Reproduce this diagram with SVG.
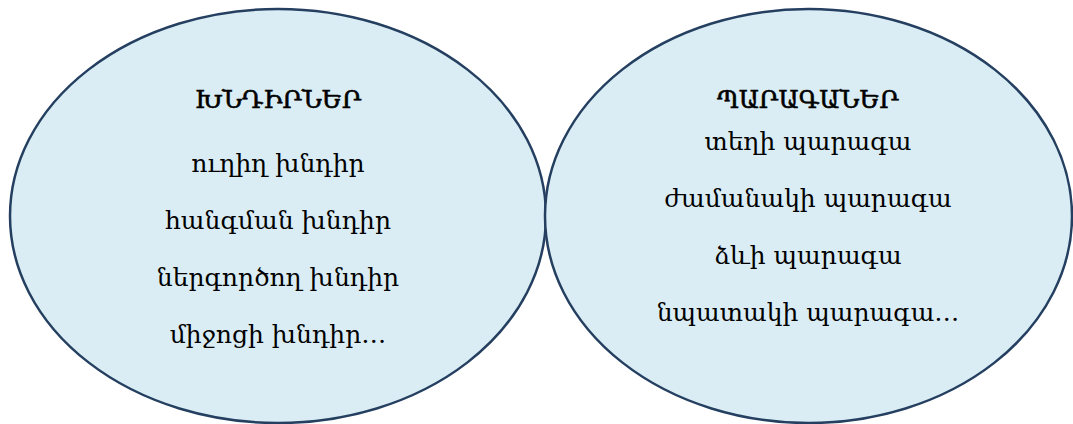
<svg xmlns="http://www.w3.org/2000/svg" width="1073" height="424" viewBox="0 0 1073 424">
<style>
.e{fill:#daedf4;stroke:#243f60;stroke-width:2.5}
text{font-family:"DejaVu Serif","Noto Serif Armenian","Noto Sans Armenian",serif;font-size:25px;fill:#000;text-anchor:middle}
.h{font-size:25px;stroke:#000;stroke-width:0.6}
</style>
<rect width="1073" height="424" fill="#fff"/>
<g id="problems">
<ellipse class="e" cx="278" cy="216" rx="268" ry="207"/>
<text class="h" x="278" y="108">ԽՆԴԻՐՆԵՐ</text>
<text x="278" y="172">ուղիղ խնդիր</text>
<text x="278" y="229">հանգման խնդիր</text>
<text x="278" y="286">ներգործող խնդիր</text>
<text x="278" y="343">միջոցի խնդիր…</text>
</g>
<g id="adverbials">
<ellipse class="e" cx="808.5" cy="216" rx="263.5" ry="207"/>
<text class="h" x="808" y="108">ՊԱՐԱԳԱՆԵՐ</text>
<text x="808" y="150">տեղի պարագա</text>
<text x="808" y="207">ժամանակի պարագա</text>
<text x="808" y="264">ձևի պարագա</text>
<text x="808" y="321">նպատակի պարագա…</text>
</g>
<g id="connectors"></g>
</svg>
